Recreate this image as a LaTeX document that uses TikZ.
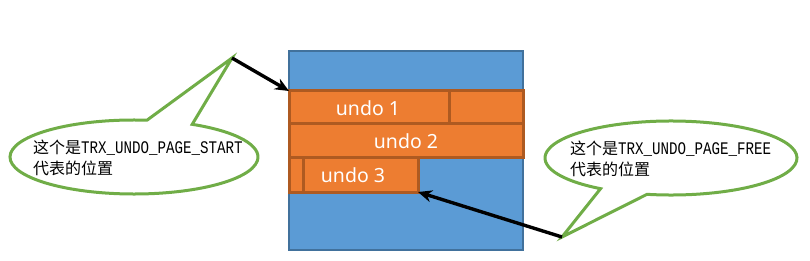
\documentclass[tikz,border=0pt]{standalone}
\usepackage{fontspec}
\setmainfont{Noto Sans}
\newfontfamily\cjk{Noto Sans CJK SC}
\newfontfamily\monof[FakeStretch=0.8]{Liberation Mono}
\newcommand{\monotxt}[1]{{\monof\fontsize{17.7}{20.5}\selectfont #1}}
\usetikzlibrary{arrows.meta}
\definecolor{bluefill}{HTML}{5B9BD5}
\definecolor{blueline}{HTML}{41719C}
\definecolor{orfill}{HTML}{ED7D31}
\definecolor{orline}{HTML}{AE5A21}
\definecolor{grn}{HTML}{70AD47}
\begin{document}
\begin{tikzpicture}[x=1pt,y=1pt,
 page/.style={fill=bluefill,draw=blueline,line width=2.6pt},
 slot/.style={fill=orfill,draw=orline,line width=3pt},
 undolabel/.style={text=white,inner sep=0pt,font=\fontsize{19.5}{22}\selectfont},
 callout/.style={fill=white,draw=grn,line width=3pt,line join=miter},
 calltext/.style={align=left,anchor=west,inner sep=0pt,font=\fontsize{16}{20.5}\selectfont},
 pointer/.style={line width=3.4pt,-{Stealth[length=14pt,width=12pt]}}
]
\useasboundingbox (0,0) rectangle (810,260);
% page
\draw[page] (289,10) rectangle (523,209);
% undo slots
\draw[slot] (289,137) rectangle (523,169);
\draw[slot] (449,137) -- (449,169);
\draw[slot] (289,103) rectangle (523,137);
\draw[slot] (289,68) rectangle (418,103);
\draw[slot] (303,68) -- (303,103);
\node[undolabel] (u1) at (368,152) {undo 1};
\node[undolabel] (u2) at (406,119) {undo 2};
\node[undolabel] (u3) at (353,85) {undo 3};
\coordinate (startcorner) at (289,169);
\coordinate (freecorner) at (418,68);
% callouts
\coordinate (tipL) at (232,202);
\draw[callout] (tipL) -- ([shift={(84:124 and 37)}]134,103) arc[start angle=84,end angle=422,x radius=124,y radius=37] -- cycle;
\coordinate (tipR) at (562,23);
\draw[callout] (tipR) -- ([shift={(259:126 and 37)}]671,102) arc[start angle=259,end angle=596,x radius=126,y radius=37] -- cycle;
\node[calltext] (txtL) at (33,102) {{\cjk 这个是}\monotxt{TRX\_UNDO\_PAGE\_START}\\{\cjk 代表的位置}};
\node[calltext] (txtR) at (570,101) {{\cjk 这个是}\monotxt{TRX\_UNDO\_PAGE\_FREE}\\{\cjk 代表的位置}};
% pointers
\draw[pointer] (tipL) -- (startcorner);
\draw[pointer] (tipR) -- (freecorner);
\end{tikzpicture}
\end{document}
